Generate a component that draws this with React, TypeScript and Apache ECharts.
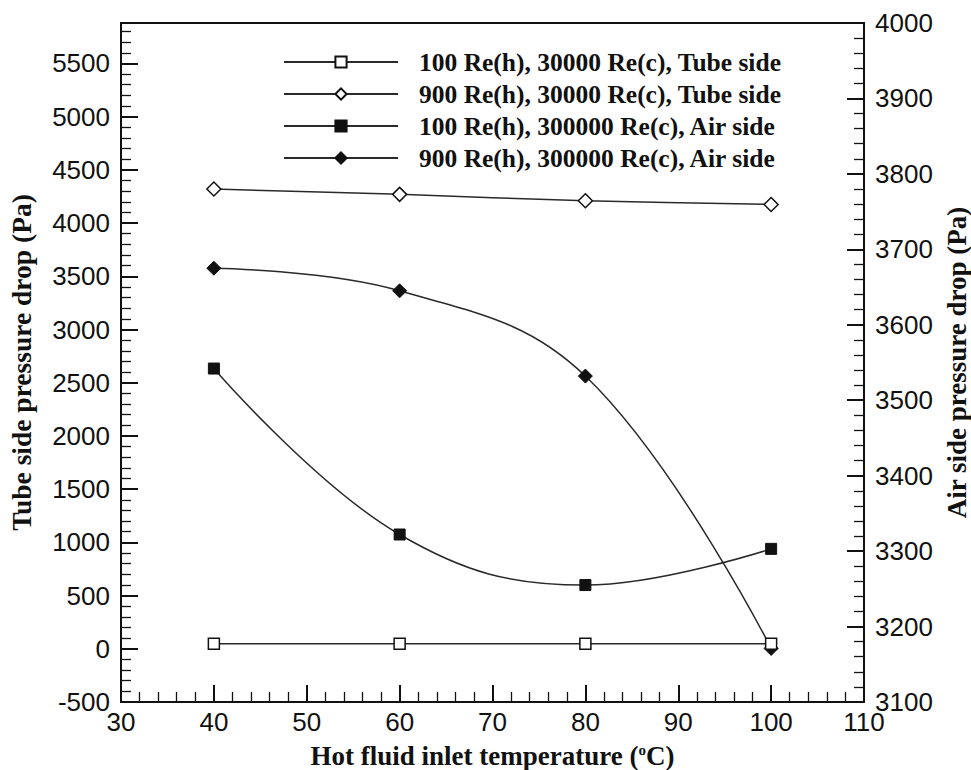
import React, { useEffect, useRef } from "react";
import * as echarts from "echarts";

// Hot fluid inlet temperature (°C)
const temperatures = [40, 60, 80, 100];

// Tube side pressure drop (Pa), left axis
const tube100 = [48, 48, 48, 48];
const tube900 = [4320, 4270, 4210, 4175];

// Air side pressure drop (Pa), right axis
const air100 = [3542, 3322, 3255, 3303];
const air900 = [3675, 3645, 3532, 3171];

const seriesNames = [
  "100 Re(h), 30000 Re(c), Tube side",
  "900 Re(h), 30000 Re(c), Tube side",
  "100 Re(h), 300000 Re(c), Air side",
  "900 Re(h), 300000 Re(c), Air side",
];

const SANS = "'Liberation Sans', Arial, sans-serif";
const SERIF = "'Liberation Serif', 'Times New Roman', serif";
const INK = "#111";

const pairs = (ys: number[]) => temperatures.map((t, i) => [t, ys[i]]);

export default function App() {
  const ref = useRef<HTMLDivElement>(null);

  useEffect(() => {
    if (!ref.current) return;
    const chart = echarts.init(ref.current, undefined, { renderer: "svg" });

    const tickCommon = {
      axisLine: { show: true, onZero: false, lineStyle: { color: INK, width: 2 } },
      axisTick: { show: true, inside: true, length: 17, lineStyle: { color: INK, width: 2 } },
      minorTick: { show: true, splitNumber: 5, length: 10, lineStyle: { color: INK, width: 1.3 } },
      splitLine: { show: false },
      minorSplitLine: { show: false },
    };

    const lineStyle = { color: "#2a2a2a", width: 1.5 };
    const plain = (v: number) => String(v);

    chart.setOption({
      animation: false,
      backgroundColor: "#fff",
      grid: {
        left: 121,
        right: 107,
        top: 23,
        bottom: 68,
        show: true,
        borderColor: INK,
        borderWidth: 2,
        containLabel: false,
        outerBoundsMode: "none",
      },
      legend: {
        orient: "vertical",
        left: 283,
        top: 49,
        padding: 0,
        itemWidth: 114,
        itemHeight: 14,
        itemGap: 6,
        data: seriesNames,
        textStyle: {
          fontFamily: SERIF,
          fontWeight: "bold",
          fontSize: 25.5,
          color: INK,
          padding: [0, 0, 0, 16],
        },
      },
      xAxis: {
        type: "value",
        min: 30,
        max: 110,
        interval: 10,
        ...tickCommon,
        axisLabel: { fontFamily: SANS, fontSize: 26, color: INK, margin: 7, formatter: plain },
        name: "Hot fluid inlet temperature ({sup|o}C)",
        nameLocation: "middle",
        nameGap: 40,
        nameTextStyle: {
          fontFamily: SERIF,
          fontWeight: "bold",
          fontSize: 27,
          color: INK,
          rich: {
            sup: {
              fontFamily: SERIF,
              fontWeight: "bold",
              fontSize: 15,
              color: INK,
              verticalAlign: "top",
            },
          },
        },
      },
      yAxis: [
        {
          type: "value",
          position: "left",
          min: -500,
          max: 5880,
          interval: 500,
          ...tickCommon,
          axisLabel: {
            fontFamily: SANS,
            fontSize: 26,
            color: INK,
            margin: 11,
            formatter: (v: number) => (v % 500 === 0 ? String(v) : ""),
          },
          name: "Tube side pressure drop (Pa)",
          nameLocation: "middle",
          nameGap: 86,
          nameTextStyle: { fontFamily: SERIF, fontWeight: "bold", fontSize: 27.5, color: INK },
        },
        {
          type: "value",
          position: "right",
          min: 3100,
          max: 4000,
          interval: 100,
          ...tickCommon,
          axisLabel: { fontFamily: SANS, fontSize: 26, color: INK, margin: 11, formatter: plain },
          name: "Air side pressure drop (Pa)",
          nameLocation: "middle",
          nameGap: 71,
          nameRotate: 90,
          nameTextStyle: { fontFamily: SERIF, fontWeight: "bold", fontSize: 27, color: INK },
        },
      ],
      series: [
        {
          name: seriesNames[0],
          type: "line",
          yAxisIndex: 0,
          data: pairs(tube100),
          symbol: "rect",
          symbolSize: 11,
          lineStyle,
          itemStyle: { color: "#fff", borderColor: INK, borderWidth: 1.5 },
          z: 3,
        },
        {
          name: seriesNames[1],
          type: "line",
          yAxisIndex: 0,
          data: pairs(tube900),
          smooth: 0.3,
          symbol: "diamond",
          symbolSize: 14,
          lineStyle,
          itemStyle: { color: "#fff", borderColor: INK, borderWidth: 1.5 },
          z: 3,
        },
        {
          name: seriesNames[2],
          type: "line",
          yAxisIndex: 1,
          data: pairs(air100),
          smooth: 0.4,
          symbol: "rect",
          symbolSize: 11,
          lineStyle,
          itemStyle: { color: INK, borderColor: INK, borderWidth: 1 },
          z: 2,
        },
        {
          name: seriesNames[3],
          type: "line",
          yAxisIndex: 1,
          data: pairs(air900),
          smooth: 0.4,
          symbol: "diamond",
          symbolSize: 14,
          lineStyle,
          itemStyle: { color: INK, borderColor: INK, borderWidth: 1 },
          z: 2,
        },
      ],
    });

    return () => chart.dispose();
  }, []);

  return <div ref={ref} style={{ width: 971, height: 770, position: "absolute", left: 0, top: 0 }} />;
}
